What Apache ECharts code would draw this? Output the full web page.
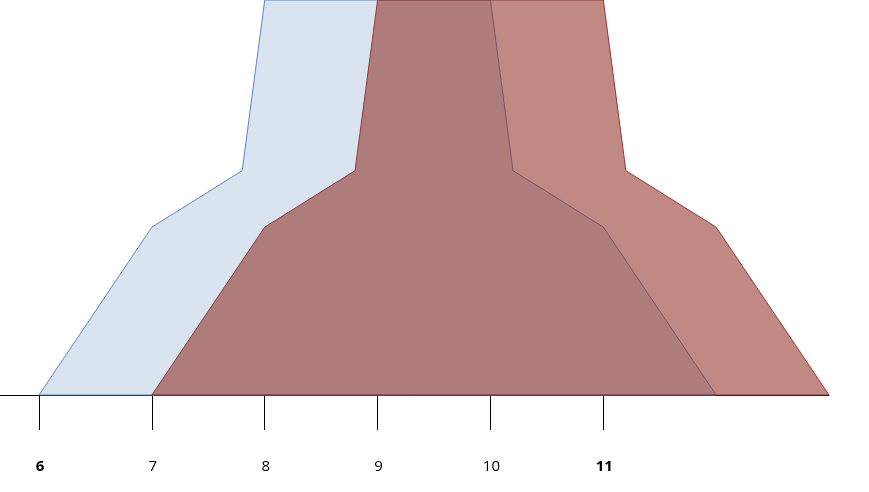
<!DOCTYPE html>
<html>
<head>
<meta charset="utf-8">
<script src="https://cdn.jsdelivr.net/npm/echarts@6/dist/echarts.min.js"></script>
<style>html,body{margin:0;padding:0;background:#fff}#c{width:869px;height:492px}</style>
</head>
<body>
<div id="c"></div>
<script>
// Shape A (blue) outline: x values and membership values (closed polygon)
var blueX = [6, 7, 7.8, 8, 10, 10.2, 11, 12, 6];
var blueY = [0, 0.425, 0.568, 1, 1, 0.568, 0.425, 0, 0];
// Shape B (red) outline
var redX = [7, 8, 8.8, 9, 11, 11.2, 12, 13, 7];
var redY = [0, 0.425, 0.568, 1, 1, 0.568, 0.425, 0, 0];
// tick labels
var tickValues = [6, 7, 8, 9, 10, 11];
var boldTicks = [6, 11];

function pairs(xs, ys){ return xs.map(function(x,i){ return [x, ys[i]]; }); }

var chart = echarts.init(document.getElementById('c'));
chart.setOption({
  animation: false,
  grid: {left: 0, right: 40, top: 0, bottom: 97},
  xAxis: {
    type: 'value', min: 5.654, max: 13,
    splitLine: {show: false},
    axisLine: {show: true, lineStyle: {color: '#000', width: 1}},
    axisTick: {show: true, length: 35, customValues: tickValues, lineStyle: {color: '#000'}},
    axisLabel: {
      customValues: tickValues, margin: 64,
      formatter: function(v){ return boldTicks.indexOf(v) >= 0 ? '{b|' + v + '}' : '{n|' + v + '}'; },
      rich: {
        b: {fontFamily: 'Open Sans', fontSize: 15, fontWeight: 'bold', color: '#000', padding: [0, 0, 0, 2]},
        n: {fontFamily: 'Open Sans', fontSize: 15, color: '#000', padding: [0, 0, 0, 2]}
      }
    }
  },
  yAxis: {type: 'value', min: 0, max: 1, show: false},
  series: [
    {
      type: 'line', data: pairs(blueX, blueY), symbol: 'none', clip: false,
      lineStyle: {color: '#5b87c2', width: 1},
      areaStyle: {color: '#dae3f0', opacity: 1},
      z: 2
    },
    {
      type: 'line', data: pairs(redX, redY), symbol: 'none', clip: false,
      lineStyle: {color: '#963633', width: 1},
      areaStyle: {color: 'rgb(140,40,30)', opacity: 0.55},
      z: 3
    }
  ]
});
</script>
</body>
</html>
